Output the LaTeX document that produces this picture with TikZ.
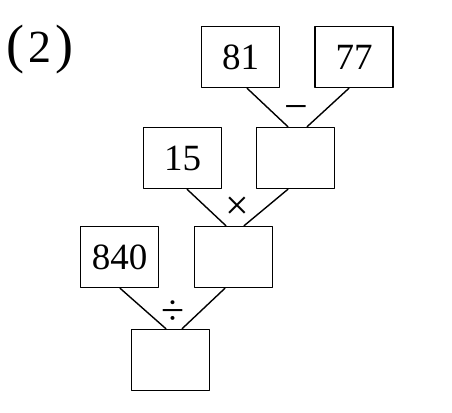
\documentclass[tikz,border=0pt]{standalone}
\usepackage{fontspec}
\setmainfont{Liberation Serif}
\tikzset{
  numbox/.style={draw, line width=1.4pt, minimum width=78pt, minimum height=61pt, inner sep=0pt, font=\fontsize{37}{40}\selectfont},
  opsign/.style={inner sep=0pt, font=\fontsize{42}{44}\selectfont},
  link/.style={line width=1.4pt}
}
\begin{document}
\begin{tikzpicture}[x=1pt, y=-1pt, line join=round, line cap=round]
	\useasboundingbox (0,0) rectangle (452,412);
	\node (lab) at (40,50) {\fontsize{54}{56}\selectfont (\kern4pt{\fontsize{46}{50}\selectfont 2}\kern4pt)};
	% top row
	\node[numbox] (n81) at (240.5,57) {81};
	\node[numbox] (n77) at (354,57) {77};
	% second row
	\node[numbox] (n15) at (182.5,158) {15};
	\node[numbox] (r1) at (295.5,158) {};
	% third row
	\node[numbox] (n840) at (119.5,257) {840};
	\node[numbox] (r2) at (233.5,257) {};
	% result
	\node[numbox] (r3) at (170.5,360) {};
	% operation signs
	\node[opsign] (minus) at (296,113) {−};
	\node[opsign] (times) at (237,208) {×};
	\node[opsign] (divi) at (173,313) {÷};
	% connectors
	\draw[link] ([xshift=6.5pt]n81.south) -- ([xshift=-7.5pt]r1.north);
	\draw[link] ([xshift=-5pt]n77.south) -- ([xshift=11.5pt]r1.north);
	\draw[link] ([xshift=4.5pt]n15.south) -- ([xshift=-7.5pt]r2.north);
	\draw[link] ([xshift=-7.5pt]r1.south) -- ([xshift=10.5pt]r2.north);
	\draw[link] ([xshift=0.5pt]n840.south) -- ([xshift=-4.5pt]r3.north);
	\draw[link] ([xshift=-8.5pt]r2.south) -- ([xshift=11.5pt]r3.north);
\end{tikzpicture}
\end{document}
